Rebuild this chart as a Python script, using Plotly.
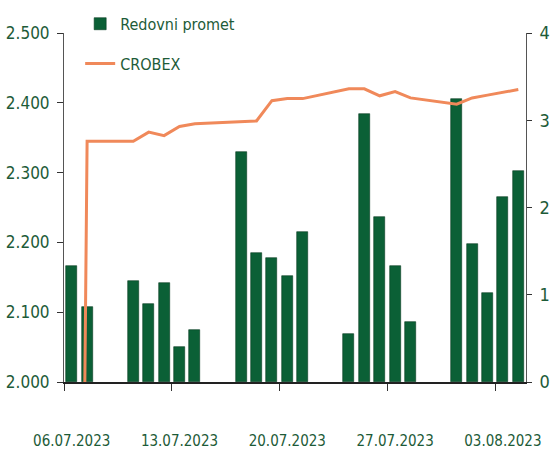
import plotly.graph_objects as go

dates = ["2023-07-06", "2023-07-07", "2023-07-10", "2023-07-11", "2023-07-12", "2023-07-13",
         "2023-07-14", "2023-07-17", "2023-07-18", "2023-07-19", "2023-07-20", "2023-07-21",
         "2023-07-24", "2023-07-25", "2023-07-26", "2023-07-27", "2023-07-28", "2023-07-31",
         "2023-08-01", "2023-08-02", "2023-08-03", "2023-08-04"]
promet = [1.33, 0.86, 1.16, 0.89, 1.13, 0.40, 0.60, 2.64, 1.48, 1.42, 1.22, 1.72,
          0.55, 3.07, 1.89, 1.33, 0.69, 3.24, 1.58, 1.02, 2.12, 2.42]
crobex = [0, 2345, 2345, 2358, 2353, 2366, 2370, 2373, 2374, 2403, 2406, 2406,
          2420, 2420, 2410, 2416, 2407, 2398, 2407, 2411, 2415, 2419]
tick_dates = ["2023-07-06", "2023-07-13", "2023-07-20", "2023-07-27", "2023-08-03"]
tick_text = ["06.07.2023", "13.07.2023", "20.07.2023", "27.07.2023", "03.08.2023"]
left_ticks = [2000, 2100, 2200, 2300, 2400, 2500]
right_ticks = [0, 1, 2, 3, 4]

DAY = 86400000
GREEN_TXT = "#1D5B38"
FONT = "DejaVu Sans Condensed, Liberation Sans Narrow, Liberation Sans, sans-serif"

fig = go.Figure()
fig.add_trace(go.Bar(
    x=dates, y=promet, name="Redovni promet", yaxis="y",
    width=0.72 * DAY,
    marker=dict(color="#0B6036", line=dict(color="#063A20", width=0.6)),
    legendgroup="a",
))
fig.add_trace(go.Scatter(
    x=dates, y=crobex, name="CROBEX", yaxis="y2", mode="lines",
    line=dict(color="#F0895A", width=3),
    legendgroup="b",
))

fig.update_layout(
    width=550, height=455,
    margin=dict(l=64, r=24, t=33, b=73, autoexpand=False),
    paper_bgcolor="white", plot_bgcolor="white",
    font=dict(family=FONT, color=GREEN_TXT, size=16),
    separators=",.",
    showlegend=True,
    legend=dict(x=0.035, y=1.075, xanchor="left", yanchor="top",
                font=dict(size=16, color=GREEN_TXT, family=FONT),
                bgcolor="rgba(0,0,0,0)", tracegroupgap=16, traceorder="grouped"),
    bargap=0,
    xaxis=dict(
        type="date", automargin=False,
        range=["2023-07-05 12:00", "2023-08-04 12:00"],
        tickvals=tick_dates, ticktext=tick_text, tickangle=0,
        ticks="", showgrid=False,
        showline=True, linecolor="#222222", linewidth=1.5,
        ticklabelstandoff=44,
        tickfont=dict(size=15, color=GREEN_TXT, family=FONT),
        minor=dict(ticks="outside", ticklen=7, tickcolor="#333333", tickwidth=1,
                   tick0="2023-07-05 12:00", dtick=7 * DAY, showgrid=False),
        zeroline=False,
    ),
    yaxis=dict(
        side="right", range=[0, 4], tickvals=right_ticks, automargin=False,
        ticks="outside", ticklen=5, tickcolor="#333333",
        showline=True, linecolor="#555555", linewidth=1,
        showgrid=False, zeroline=False,
        ticklabelstandoff=4,
        tickfont=dict(size=18, color=GREEN_TXT, family=FONT),
    ),
    yaxis2=dict(
        side="left", overlaying="y", range=[2000, 2500], tickvals=left_ticks,
        tickformat=",.0f", automargin=False,
        ticks="outside", ticklen=6, tickcolor="#333333",
        showline=True, linecolor="#555555", linewidth=1,
        showgrid=False, zeroline=False,
        ticklabelstandoff=4,
        tickfont=dict(size=17, color=GREEN_TXT, family=FONT),
    ),
)

fig.write_html("out.html", config={"displayModeBar": False},
               post_script="document.body.style.margin='0px';document.body.style.overflow='hidden';")
